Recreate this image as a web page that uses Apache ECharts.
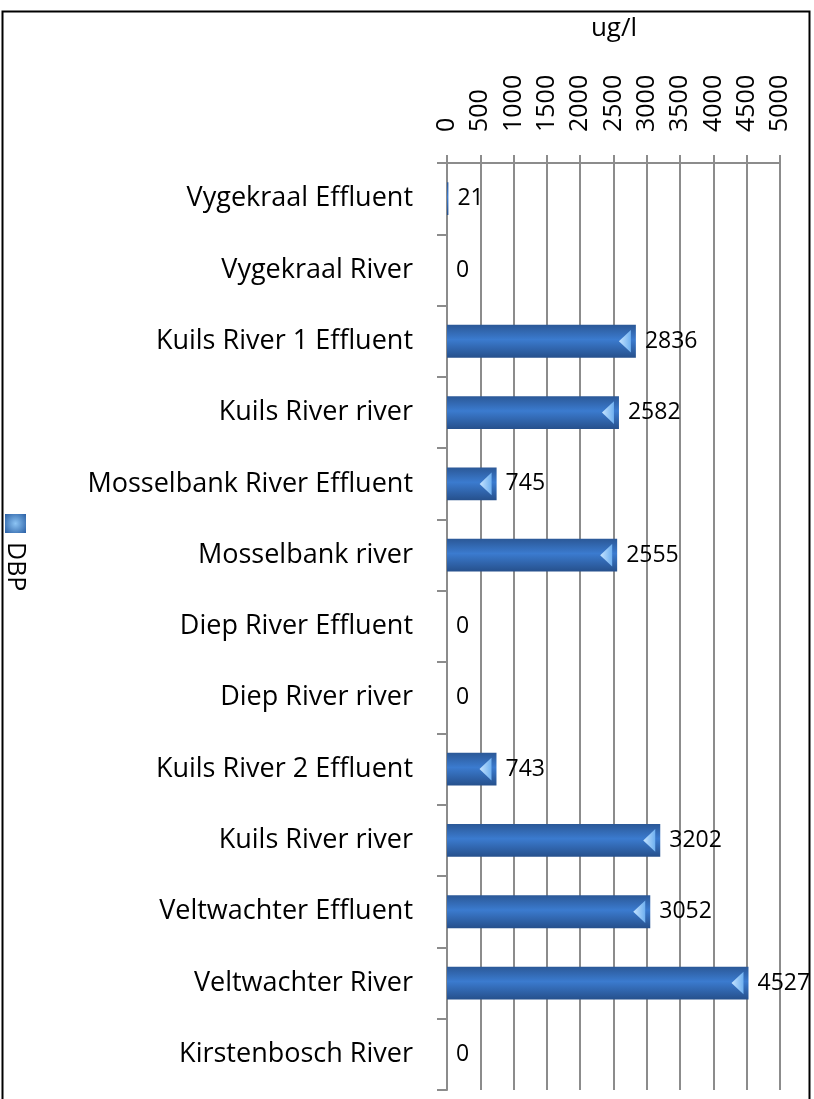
<!DOCTYPE html>
<html>
<head>
<meta charset="utf-8">
<script src="https://cdn.jsdelivr.net/npm/echarts@6/dist/echarts.min.js"></script>
<style>
  html, body { margin: 0; padding: 0; background: #fff; }
  #chart { width: 814px; height: 1099px; }
</style>
</head>
<body>
<div id="chart"></div>
<script>
const sites = [
  'Vygekraal Effluent',
  'Vygekraal River',
  'Kuils River 1 Effluent',
  'Kuils River river',
  'Mosselbank River Effluent',
  'Mosselbank river',
  'Diep River Effluent',
  'Diep River river',
  'Kuils River 2 Effluent',
  'Kuils River river',
  'Veltwachter Effluent',
  'Veltwachter River',
  'Kirstenbosch River'
];
const dbp = [21, 0, 2836, 2582, 745, 2555, 0, 0, 743, 3202, 3052, 4527, 0];
const axisTicks = [0, 500, 1000, 1500, 2000, 2500, 3000, 3500, 4000, 4500, 5000];

const font = 'Open Sans';

// light "cone" tip at the end of each bar, skipped for tiny bars
const tips = dbp.map((v) => (v >= 100 ? v : '-'));

const barColor = new echarts.graphic.LinearGradient(0, 0, 0, 1, [
  { offset: 0, color: '#2b5897' },
  { offset: 0.45, color: '#3b7bcf' },
  { offset: 1, color: '#26508c' }
]);

const chart = echarts.init(document.getElementById('chart'));
chart.setOption({
  animation: false,
  backgroundColor: '#fff',
  title: {
    text: 'ug/l',
    left: 609,
    textAlign: 'center',
    top: 11,
    textStyle: { fontFamily: font, fontSize: 26, fontWeight: 'normal', color: '#000' }
  },
  grid: { left: 447, right: 34, top: 163, bottom: 9 },
  xAxis: {
    type: 'value',
    position: 'top',
    min: 0,
    max: 5000,
    interval: 500,
    axisLine: { show: true, lineStyle: { color: '#8c8c8c', width: 2 } },
    axisTick: { show: true, length: 8, lineStyle: { color: '#8c8c8c', width: 2 } },
    splitLine: { show: true, lineStyle: { color: '#8c8c8c', width: 2 } },
    axisLabel: {
      rotate: -90,
      margin: 31,
      fontFamily: font,
      fontSize: 25,
      color: '#000',
      formatter: (v) => (axisTicks.includes(v) ? String(v) : '')
    }
  },
  yAxis: {
    type: 'category',
    data: sites,
    inverse: true,
    axisLine: { show: true, lineStyle: { color: '#8c8c8c', width: 2 } },
    axisTick: { show: true, length: 10, lineStyle: { color: '#8c8c8c', width: 2 } },
    axisLabel: {
      margin: 34,
      fontFamily: font,
      fontSize: 27,
      color: '#000'
    }
  },
  series: [
    {
      name: 'DBP',
      type: 'bar',
      data: dbp,
      barWidth: '46%',
      itemStyle: { color: barColor },
      label: {
        show: true,
        position: 'right',
        distance: 9,
        fontFamily: font,
        fontSize: 23,
        color: '#000'
      },
      z: 2
    },
    {
      type: 'pictorialBar',
      data: tips,
      symbol: 'path://M10,0 L0,50 L10,100 Z',
      symbolSize: [12, '46%'],
      symbolPosition: 'end',
      symbolOffset: [-5, 0],
      itemStyle: {
        color: new echarts.graphic.LinearGradient(0, 0, 1, 0, [
          { offset: 0, color: '#c6e4ff' },
          { offset: 1, color: '#6fb0f0' }
        ])
      },
      silent: true,
      z: 3
    }
  ],
  graphic: [
    {
      type: 'rect',
      left: 0,
      top: 9,
      shape: { x: 0, y: 0, width: 807, height: 1100 },
      style: { fill: 'none', stroke: '#000', lineWidth: 2 },
      silent: true
    },
    {
      type: 'rect',
      left: 5,
      top: 514,
      shape: { width: 21, height: 19 },
      style: {
        fill: new echarts.graphic.RadialGradient(0.5, 0.5, 0.7, [
          { offset: 0, color: '#8cc4f4' },
          { offset: 1, color: '#2f64a8' }
        ])
      }
    },
    {
      type: 'text',
      x: 28,
      y: 542,
      rotation: -Math.PI / 2,
      style: { text: 'DBP', fontFamily: font, fontSize: 25, fill: '#000' }
    }
  ]
});
</script>
</body>
</html>
